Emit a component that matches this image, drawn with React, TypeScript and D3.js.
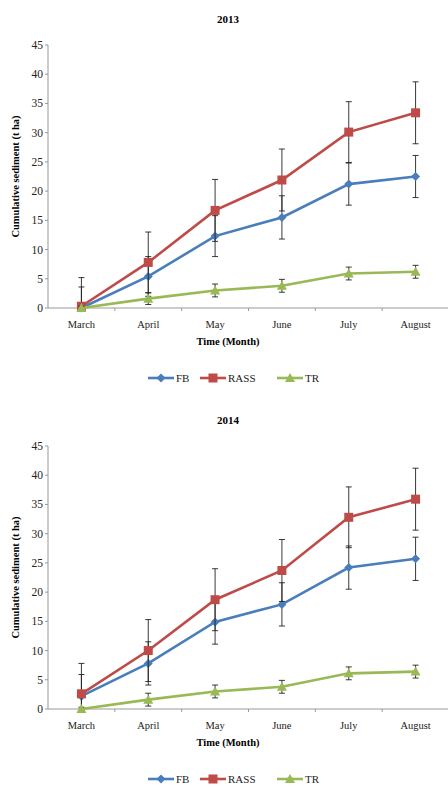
import * as d3 from "d3";

const months = ["March", "April", "May", "June", "July", "August"];
const seriesNames = ["FB", "RASS", "TR"];
const colors = ["#4a7ebb", "#be4b48", "#98b954"];

const fb2013 = [0, 5.4, 12.3, 15.5, 21.2, 22.5];
const fbErr2013 = [3.6, 3.4, 3.5, 3.7, 3.6, 3.6];
const rass2013 = [0.3, 7.8, 16.7, 21.9, 30.1, 33.4];
const rassErr2013 = [4.9, 5.2, 5.3, 5.3, 5.2, 5.3];
const tr2013 = [0, 1.6, 3.0, 3.8, 5.9, 6.2];
const trErr2013 = [0.3, 1.0, 1.1, 1.1, 1.1, 1.1];

const fb2014 = [2.2, 7.8, 14.9, 17.9, 24.2, 25.7];
const fbErr2014 = [3.7, 3.7, 3.8, 3.7, 3.7, 3.7];
const rass2014 = [2.6, 10.0, 18.7, 23.7, 32.8, 35.9];
const rassErr2014 = [5.2, 5.3, 5.3, 5.3, 5.2, 5.3];
const tr2014 = [0, 1.6, 3.0, 3.8, 6.1, 6.4];
const trErr2014 = [0.3, 1.1, 1.1, 1.1, 1.1, 1.1];

const yTicks = [0, 5, 10, 15, 20, 25, 30, 35, 40, 45];
const font = "Liberation Serif, Times New Roman, serif";

function Marker({ kind, x, y, color }: { kind: number; x: number; y: number; color: string }) {
  if (kind === 0) {
    const s = 4.5;
    return <path d={`M${x},${y - s}L${x + s},${y}L${x},${y + s}L${x - s},${y}Z`} fill={color} />;
  }
  if (kind === 1) return <rect x={x - 4.5} y={y - 4.5} width={9} height={9} fill={color} />;
  const s = 5;
  return <path d={`M${x},${y - s}L${x + s},${y + s * 0.8}L${x - s},${y + s * 0.8}Z`} fill={color} />;
}

function Chart({ top, title, values, errors }: { top: number; title: string; values: number[][]; errors: number[][] }) {
  const x0 = 48, x1 = 449, yTop = top + 45, yBot = top + 308;
  const x = d3.scaleBand<string>().domain(months).range([x0, x1]);
  const y = d3.scaleLinear().domain([0, 45]).range([yBot, yTop]);
  const cx = (m: string) => (x(m) as number) + x.bandwidth() / 2;
  const line = d3.line<number>().x((_, i) => cx(months[i])).y((d) => y(d));
  return (
    <g fontFamily={font}>
      <text x={228} y={top + 23} textAnchor="middle" fontSize={11} fontWeight="bold">{title}</text>
      <line x1={x0} x2={x0} y1={yTop} y2={yBot} stroke="#999" />
      <line x1={x0} x2={x1} y1={yBot} y2={yBot} stroke="#999" />
      {yTicks.map((t) => (
        <g key={t}>
          <line x1={x0 - 3} x2={x0} y1={y(t)} y2={y(t)} stroke="#999" />
          <text x={x0 - 5} y={y(t) + 4} textAnchor="end" fontSize={11.5} fill="#222">{t}</text>
        </g>
      ))}
      {months.map((m, i) => (
        <g key={m}>
          <line x1={x0 + x.bandwidth() * (i + 1)} x2={x0 + x.bandwidth() * (i + 1)} y1={yBot} y2={yBot + 3} stroke="#999" />
          <text x={cx(m)} y={yBot + 20} textAnchor="middle" fontSize={10.5} fill="#222">{m}</text>
        </g>
      ))}
      <text x={228} y={yBot + 37} textAnchor="middle" fontSize={10.5} fontWeight="bold">Time (Month)</text>
      <text transform={`translate(19,${(yTop + yBot) / 2}) rotate(-90)`} textAnchor="middle" fontSize={10.5} fontWeight="bold">Cumulative sediment (t ha)</text>
      {values.map((vals, s) => (
        <g key={s}>
          <path d={line(vals) || ""} fill="none" stroke={colors[s]} strokeWidth={2.6} />
          {vals.map((v, i) => {
            const e = errors[s][i];
            const px = cx(months[i]);
            return (
              <g key={i}>
                <line x1={px} x2={px} y1={y(Math.max(0, v - e))} y2={y(v + e)} stroke="#222" strokeWidth={0.9} />
                <line x1={px - 3} x2={px + 3} y1={y(v + e)} y2={y(v + e)} stroke="#222" strokeWidth={0.9} />
                {v - e > 0 && <line x1={px - 3} x2={px + 3} y1={y(v - e)} y2={y(v - e)} stroke="#222" strokeWidth={0.9} />}
              </g>
            );
          })}
          {vals.map((v, i) => (
            <Marker key={i} kind={s} x={cx(months[i])} y={y(v)} color={colors[s]} />
          ))}
        </g>
      ))}
      {seriesNames.map((n, s) => {
        const lx = [148, 200, 277][s];
        const ly = yBot + 70;
        return (
          <g key={n}>
            <line x1={lx} x2={lx + 26} y1={ly} y2={ly} stroke={colors[s]} strokeWidth={2.6} />
            <Marker kind={s} x={lx + 13} y={ly} color={colors[s]} />
            <text x={lx + 28} y={ly + 4} fontSize={11} fill="#222">{n}</text>
          </g>
        );
      })}
    </g>
  );
}

export default function App() {
  return (
    <svg width={448} height={787} style={{ position: "absolute", left: 0, top: 0, background: "#fff" }}>
      <rect width={448} height={787} fill="#fff" />
      <Chart top={0} title="2013" values={[fb2013, rass2013, tr2013]} errors={[fbErr2013, rassErr2013, trErr2013]} />
      <Chart top={401} title="2014" values={[fb2014, rass2014, tr2014]} errors={[fbErr2014, rassErr2014, trErr2014]} />
    </svg>
  );
}
